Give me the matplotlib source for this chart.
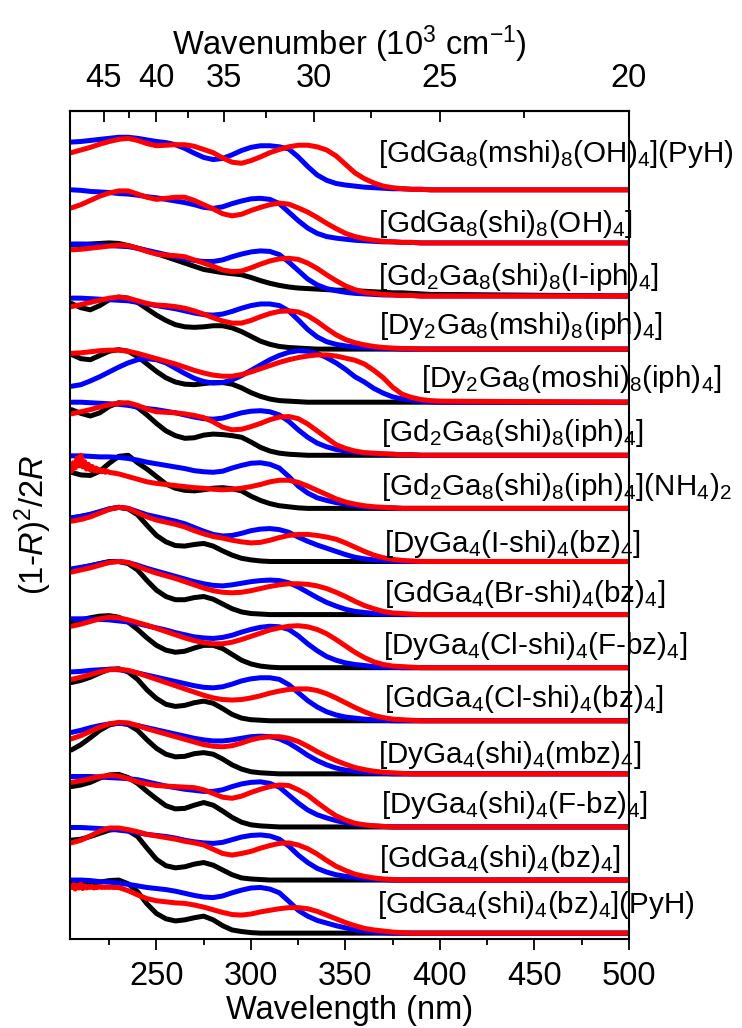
import numpy as np
import matplotlib
matplotlib.use("Agg")
import matplotlib.pyplot as plt

plt.rcParams['font.family'] = ['Liberation Sans', 'DejaVu Sans']
plt.rcParams['mathtext.fontset'] = 'custom'
plt.rcParams['mathtext.rm'] = 'Liberation Sans'
plt.rcParams['mathtext.it'] = 'Liberation Sans:italic'
plt.rcParams['mathtext.bf'] = 'Liberation Sans:bold'

# wavelength grid (nm): 205..400 every 5 nm, then the flat end at 500
wl = list(range(205, 401, 5)) + [500]

# compounds, top to bottom
names = [
    r'[GdGa$_8$(mshi)$_8$(OH)$_4$](PyH)',
    r'[GdGa$_8$(shi)$_8$(OH)$_4$]',
    r'[Gd$_2$Ga$_8$(shi)$_8$(I-iph)$_4$]',
    r'[Dy$_2$Ga$_8$(mshi)$_8$(iph)$_4$]',
    r'[Dy$_2$Ga$_8$(moshi)$_8$(iph)$_4$]',
    r'[Gd$_2$Ga$_8$(shi)$_8$(iph)$_4$]',
    r'[Gd$_2$Ga$_8$(shi)$_8$(iph)$_4$](NH$_4$)$_2$',
    r'[DyGa$_4$(I-shi)$_4$(bz)$_4$]',
    r'[GdGa$_4$(Br-shi)$_4$(bz)$_4$]',
    r'[DyGa$_4$(Cl-shi)$_4$(F-bz)$_4$]',
    r'[GdGa$_4$(Cl-shi)$_4$(bz)$_4$]',
    r'[DyGa$_4$(shi)$_4$(mbz)$_4$]',
    r'[DyGa$_4$(shi)$_4$(F-bz)$_4$]',
    r'[GdGa$_4$(shi)$_4$(bz)$_4$]',
    r'[GdGa$_4$(shi)$_4$(bz)$_4$](PyH)',
]

# Kubelka-Munk spectra, rows of ten points: 205-250, 255-300, 305-350, 355-400, then 500 nm
t01_blue = [0.90, 0.91, 0.93, 0.95, 0.97, 0.99, 0.99, 0.97, 0.94, 0.91,
            0.89, 0.85, 0.78, 0.69, 0.61, 0.57, 0.59, 0.66, 0.74, 0.80,
            0.83, 0.83, 0.81, 0.77, 0.62, 0.44, 0.28, 0.18, 0.12, 0.09,
            0.07, 0.05, 0.04, 0.03, 0.02, 0.02, 0.01, 0.01, 0, 0, 0]
t01_red = [0.70, 0.75, 0.80, 0.86, 0.91, 0.95, 0.97, 0.93, 0.87, 0.83,
           0.84, 0.85, 0.85, 0.82, 0.76, 0.70, 0.60, 0.52, 0.50, 0.55,
           0.62, 0.70, 0.76, 0.81, 0.84, 0.84, 0.81, 0.75, 0.64, 0.48,
           0.32, 0.21, 0.13, 0.07, 0.04, 0.02, 0.01, 0.01, 0, 0, 0]

t02_blue = [1.00, 0.99, 0.97, 0.96, 0.95, 0.93, 0.92, 0.90, 0.87, 0.85,
            0.82, 0.79, 0.76, 0.72, 0.67, 0.65, 0.68, 0.74, 0.79, 0.83,
            0.84, 0.82, 0.74, 0.58, 0.42, 0.28, 0.18, 0.12, 0.09, 0.07,
            0.05, 0.04, 0.03, 0.02, 0.02, 0.01, 0.01, 0, 0, 0, 0]
t02_red = [0.66, 0.72, 0.80, 0.88, 0.94, 0.98, 0.98, 0.92, 0.86, 0.82,
           0.84, 0.86, 0.86, 0.80, 0.72, 0.64, 0.55, 0.51, 0.54, 0.61,
           0.67, 0.72, 0.75, 0.73, 0.66, 0.58, 0.48, 0.37, 0.27, 0.18,
           0.12, 0.08, 0.05, 0.03, 0.02, 0.01, 0.01, 0, 0, 0, 0]

t03_black = [0.96, 0.97, 0.98, 0.99, 1.00, 0.99, 0.95, 0.90, 0.85, 0.80,
             0.74, 0.68, 0.62, 0.56, 0.50, 0.47, 0.44, 0.42, 0.40, 0.35,
             0.29, 0.24, 0.20, 0.17, 0.15, 0.14, 0.13, 0.12, 0.11, 0.11,
             0.10, 0.09, 0.08, 0.07, 0.06, 0.06, 0.05, 0.04, 0.03, 0.03, 0]
t03_blue = [0.98, 0.98, 0.97, 0.96, 0.95, 0.94, 0.93, 0.90, 0.86, 0.82,
            0.78, 0.74, 0.70, 0.67, 0.65, 0.65, 0.68, 0.74, 0.79, 0.83,
            0.85, 0.84, 0.78, 0.64, 0.48, 0.32, 0.21, 0.14, 0.10, 0.07,
            0.05, 0.04, 0.03, 0.02, 0.02, 0.01, 0.01, 0, 0, 0, 0]
t03_red = [0.87, 0.88, 0.90, 0.92, 0.94, 0.96, 0.95, 0.90, 0.84, 0.79,
           0.77, 0.76, 0.74, 0.68, 0.62, 0.56, 0.49, 0.46, 0.47, 0.53,
           0.60, 0.66, 0.70, 0.71, 0.69, 0.62, 0.52, 0.40, 0.29, 0.19,
           0.12, 0.07, 0.05, 0.03, 0.02, 0.01, 0.01, 0, 0, 0, 0]

t04_black = [0.86, 0.78, 0.74, 0.82, 0.93, 0.98, 0.96, 0.88, 0.76, 0.64,
             0.54, 0.46, 0.42, 0.41, 0.42, 0.44, 0.44, 0.40, 0.33, 0.24,
             0.15, 0.09, 0.05, 0.03, 0.02, 0.01, 0, 0, 0, 0,
             0, 0, 0, 0, 0, 0, 0, 0, 0, 0, 0]
t04_blue = [0.96, 0.96, 0.95, 0.94, 0.93, 0.92, 0.91, 0.88, 0.85, 0.82,
            0.79, 0.76, 0.72, 0.68, 0.65, 0.64, 0.66, 0.71, 0.77, 0.82,
            0.85, 0.85, 0.82, 0.72, 0.55, 0.37, 0.23, 0.14, 0.09, 0.06,
            0.04, 0.03, 0.02, 0.01, 0.01, 0, 0, 0, 0, 0, 0]
t04_red = [0.80, 0.84, 0.88, 0.92, 0.96, 0.98, 0.96, 0.91, 0.86, 0.83,
           0.82, 0.80, 0.77, 0.72, 0.66, 0.59, 0.53, 0.49, 0.49, 0.54,
           0.61, 0.67, 0.71, 0.72, 0.70, 0.63, 0.52, 0.39, 0.27, 0.18,
           0.12, 0.08, 0.05, 0.03, 0.02, 0.01, 0.01, 0, 0, 0, 0]

t05_black = [0.90, 0.82, 0.80, 0.88, 0.96, 0.99, 0.96, 0.86, 0.72, 0.58,
             0.46, 0.38, 0.34, 0.33, 0.35, 0.37, 0.37, 0.34, 0.27, 0.18,
             0.11, 0.06, 0.03, 0.02, 0.01, 0, 0, 0, 0, 0,
             0, 0, 0, 0, 0, 0, 0, 0, 0, 0, 0]
t05_blue = [0.30, 0.33, 0.40, 0.48, 0.57, 0.66, 0.74, 0.80, 0.82, 0.80,
            0.74, 0.64, 0.54, 0.45, 0.39, 0.36, 0.37, 0.42, 0.50, 0.60,
            0.70, 0.80, 0.88, 0.94, 0.97, 0.96, 0.92, 0.84, 0.74, 0.62,
            0.48, 0.38, 0.26, 0.17, 0.10, 0.06, 0.04, 0.02, 0.01, 0, 0]
t05_red = [0.92, 0.93, 0.95, 0.97, 0.98, 0.98, 0.96, 0.92, 0.87, 0.82,
           0.77, 0.72, 0.66, 0.60, 0.55, 0.51, 0.49, 0.49, 0.52, 0.57,
           0.63, 0.69, 0.75, 0.80, 0.84, 0.87, 0.89, 0.89, 0.87, 0.83,
           0.79, 0.72, 0.60, 0.46, 0.28, 0.15, 0.09, 0.05, 0.03, 0.02, 0]

t06_black = [0.86, 0.79, 0.74, 0.80, 0.92, 0.99, 0.97, 0.90, 0.76, 0.60,
             0.46, 0.37, 0.32, 0.33, 0.38, 0.40, 0.39, 0.37, 0.34, 0.25,
             0.15, 0.08, 0.04, 0.02, 0.01, 0, 0, 0, 0, 0,
             0, 0, 0, 0, 0, 0, 0, 0, 0, 0, 0]
t06_blue = [1.00, 1.00, 0.99, 0.98, 0.97, 0.96, 0.94, 0.91, 0.88, 0.86,
            0.83, 0.80, 0.76, 0.72, 0.69, 0.68, 0.70, 0.75, 0.80, 0.83,
            0.84, 0.82, 0.76, 0.64, 0.48, 0.34, 0.23, 0.16, 0.11, 0.08,
            0.06, 0.04, 0.03, 0.02, 0.02, 0.01, 0.01, 0, 0, 0, 0]
t06_red = [0.78, 0.82, 0.86, 0.91, 0.95, 0.98, 0.99, 0.94, 0.87, 0.82,
           0.81, 0.80, 0.78, 0.75, 0.71, 0.63, 0.53, 0.48, 0.49, 0.54,
           0.60, 0.67, 0.72, 0.73, 0.69, 0.59, 0.46, 0.33, 0.20, 0.13,
           0.08, 0.05, 0.04, 0.03, 0.02, 0.01, 0.01, 0, 0, 0, 0]

t07_black = [0.68, 0.63, 0.62, 0.70, 0.85, 0.98, 1.00, 0.86, 0.74, 0.60,
             0.46, 0.38, 0.34, 0.33, 0.35, 0.38, 0.39, 0.37, 0.33, 0.23,
             0.15, 0.09, 0.05, 0.03, 0.01, 0, 0, 0, 0, 0,
             0, 0, 0, 0, 0, 0, 0, 0, 0, 0, 0]
t07_blue = [0.99, 0.99, 0.98, 0.97, 0.97, 0.96, 0.94, 0.91, 0.87, 0.84,
            0.81, 0.78, 0.75, 0.71, 0.69, 0.68, 0.70, 0.76, 0.81, 0.85,
            0.86, 0.83, 0.76, 0.60, 0.42, 0.29, 0.20, 0.15, 0.11, 0.08,
            0.05, 0.03, 0.02, 0.01, 0.01, 0, 0, 0, 0, 0, 0]
# noisy start: 205-224 nm every 1 nm, then 225-400 every 5 nm, then 500
t07_red_wl = list(range(205, 225)) + list(range(225, 401, 5)) + [500]
t07_red = [0.70, 0.86, 0.76, 0.95, 0.80, 1.00, 0.78, 0.88, 0.74, 0.83,
           0.72, 0.79, 0.71, 0.76, 0.70, 0.73, 0.69, 0.72, 0.68, 0.70,
           0.68, 0.65, 0.60, 0.55, 0.50, 0.47, 0.45, 0.43, 0.41, 0.39,
           0.38, 0.36, 0.35, 0.36, 0.38, 0.41, 0.45, 0.50, 0.53, 0.53,
           0.49, 0.42, 0.34, 0.26, 0.18, 0.12, 0.08, 0.05, 0.03, 0.02,
           0.01, 0, 0, 0, 0, 0, 0]

t08_black = [0.82, 0.85, 0.88, 0.93, 0.99, 1.02, 0.99, 0.88, 0.68, 0.49,
             0.37, 0.30, 0.29, 0.32, 0.34, 0.29, 0.20, 0.12, 0.06, 0.03,
             0.01, 0, 0, 0, 0, 0, 0, 0, 0, 0,
             0, 0, 0, 0, 0, 0, 0, 0, 0, 0, 0]
t08_blue = [0.82, 0.85, 0.89, 0.94, 0.99, 1.02, 1.00, 0.94, 0.88, 0.84,
            0.80, 0.76, 0.71, 0.64, 0.57, 0.51, 0.48, 0.49, 0.53, 0.58,
            0.61, 0.62, 0.60, 0.55, 0.46, 0.38, 0.31, 0.25, 0.19, 0.13,
            0.08, 0.05, 0.03, 0.02, 0.01, 0, 0, 0, 0, 0, 0]
t08_red = [0.76, 0.79, 0.84, 0.91, 0.98, 1.02, 1.00, 0.92, 0.84, 0.78,
           0.74, 0.70, 0.65, 0.58, 0.52, 0.47, 0.44, 0.40, 0.37, 0.35,
           0.36, 0.40, 0.45, 0.49, 0.51, 0.51, 0.49, 0.46, 0.42, 0.35,
           0.27, 0.19, 0.12, 0.07, 0.04, 0.02, 0.01, 0, 0, 0, 0]

t09_black = [0.84, 0.88, 0.92, 0.96, 1.00, 1.00, 0.96, 0.84, 0.64, 0.46,
             0.34, 0.28, 0.28, 0.32, 0.34, 0.29, 0.20, 0.11, 0.05, 0.02,
             0.01, 0, 0, 0, 0, 0, 0, 0, 0, 0,
             0, 0, 0, 0, 0, 0, 0, 0, 0, 0, 0]
t09_blue = [0.86, 0.89, 0.92, 0.96, 0.99, 1.00, 0.98, 0.93, 0.87, 0.82,
            0.77, 0.72, 0.67, 0.62, 0.58, 0.55, 0.54, 0.56, 0.59, 0.62,
            0.64, 0.65, 0.64, 0.60, 0.52, 0.42, 0.32, 0.23, 0.16, 0.10,
            0.06, 0.04, 0.02, 0.01, 0.01, 0, 0, 0, 0, 0, 0]
t09_red = [0.80, 0.84, 0.88, 0.93, 0.98, 1.00, 0.98, 0.91, 0.84, 0.78,
           0.73, 0.68, 0.62, 0.56, 0.50, 0.45, 0.42, 0.41, 0.42, 0.45,
           0.49, 0.53, 0.56, 0.58, 0.58, 0.57, 0.54, 0.49, 0.42, 0.34,
           0.25, 0.17, 0.11, 0.06, 0.03, 0.02, 0.01, 0, 0, 0, 0]

t10_black = [0.86, 0.90, 0.94, 0.97, 0.98, 0.95, 0.86, 0.72, 0.56, 0.42,
             0.33, 0.29, 0.31, 0.37, 0.42, 0.42, 0.36, 0.25, 0.14, 0.07,
             0.03, 0.01, 0, 0, 0, 0, 0, 0, 0, 0,
             0, 0, 0, 0, 0, 0, 0, 0, 0, 0, 0]
t10_blue = [0.92, 0.92, 0.92, 0.91, 0.90, 0.88, 0.86, 0.83, 0.79, 0.75,
            0.71, 0.66, 0.62, 0.58, 0.56, 0.55, 0.57, 0.61, 0.67, 0.72,
            0.76, 0.78, 0.77, 0.72, 0.60, 0.45, 0.32, 0.21, 0.14, 0.09,
            0.06, 0.04, 0.02, 0.01, 0.01, 0, 0, 0, 0, 0, 0]
t10_red = [0.78, 0.82, 0.87, 0.92, 0.95, 0.94, 0.90, 0.85, 0.80, 0.74,
           0.68, 0.62, 0.56, 0.51, 0.47, 0.45, 0.45, 0.48, 0.53, 0.59,
           0.65, 0.71, 0.75, 0.78, 0.79, 0.77, 0.72, 0.64, 0.53, 0.41,
           0.29, 0.19, 0.11, 0.06, 0.03, 0.02, 0.01, 0, 0, 0, 0]

t11_black = [0.72, 0.76, 0.82, 0.90, 0.97, 0.98, 0.92, 0.78, 0.58, 0.42,
             0.31, 0.27, 0.29, 0.34, 0.37, 0.33, 0.23, 0.12, 0.05, 0.02,
             0.01, 0, 0, 0, 0, 0, 0, 0, 0, 0,
             0, 0, 0, 0, 0, 0, 0, 0, 0, 0, 0]
t11_blue = [0.92, 0.93, 0.95, 0.96, 0.97, 0.96, 0.94, 0.90, 0.86, 0.82,
            0.78, 0.74, 0.70, 0.66, 0.63, 0.62, 0.64, 0.69, 0.75, 0.79,
            0.81, 0.81, 0.78, 0.68, 0.53, 0.38, 0.26, 0.17, 0.11, 0.07,
            0.05, 0.03, 0.02, 0.01, 0, 0, 0, 0, 0, 0, 0]
t11_red = [0.78, 0.82, 0.87, 0.92, 0.96, 0.97, 0.95, 0.90, 0.84, 0.78,
           0.72, 0.66, 0.60, 0.54, 0.48, 0.43, 0.40, 0.39, 0.40, 0.43,
           0.47, 0.52, 0.56, 0.59, 0.60, 0.60, 0.57, 0.51, 0.43, 0.34,
           0.25, 0.17, 0.10, 0.06, 0.03, 0.02, 0.01, 0, 0, 0, 0]

t12_black = [0.45, 0.55, 0.68, 0.82, 0.92, 0.96, 0.93, 0.82, 0.64, 0.48,
             0.37, 0.32, 0.33, 0.38, 0.40, 0.37, 0.28, 0.17, 0.09, 0.04,
             0.02, 0.01, 0, 0, 0, 0, 0, 0, 0, 0,
             0, 0, 0, 0, 0, 0, 0, 0, 0, 0, 0]
t12_blue = [0.78, 0.82, 0.87, 0.91, 0.94, 0.95, 0.94, 0.91, 0.87, 0.83,
            0.79, 0.75, 0.71, 0.67, 0.64, 0.62, 0.62, 0.64, 0.67, 0.70,
            0.71, 0.70, 0.66, 0.58, 0.47, 0.35, 0.25, 0.17, 0.11, 0.07,
            0.05, 0.03, 0.02, 0.01, 0, 0, 0, 0, 0, 0, 0]
t12_red = [0.66, 0.72, 0.80, 0.88, 0.94, 0.97, 0.96, 0.91, 0.85, 0.80,
           0.75, 0.70, 0.65, 0.60, 0.55, 0.52, 0.51, 0.53, 0.58, 0.64,
           0.68, 0.70, 0.70, 0.67, 0.61, 0.52, 0.42, 0.33, 0.25, 0.18,
           0.12, 0.08, 0.05, 0.03, 0.02, 0.01, 0, 0, 0, 0, 0]

t13_black = [0.76, 0.79, 0.84, 0.92, 0.98, 0.99, 0.93, 0.82, 0.67, 0.53,
             0.40, 0.34, 0.35, 0.41, 0.46, 0.41, 0.30, 0.18, 0.09, 0.04,
             0.02, 0.01, 0, 0, 0, 0, 0, 0, 0, 0,
             0, 0, 0, 0, 0, 0, 0, 0, 0, 0, 0]
t13_blue = [0.95, 0.95, 0.95, 0.94, 0.93, 0.92, 0.91, 0.89, 0.85, 0.81,
            0.77, 0.74, 0.71, 0.69, 0.67, 0.67, 0.70, 0.76, 0.81, 0.84,
            0.85, 0.82, 0.75, 0.60, 0.45, 0.32, 0.23, 0.17, 0.12, 0.08,
            0.05, 0.03, 0.02, 0.01, 0, 0, 0, 0, 0, 0, 0]
t13_red = [0.84, 0.87, 0.91, 0.95, 0.97, 0.96, 0.91, 0.85, 0.81, 0.78,
           0.77, 0.76, 0.75, 0.74, 0.70, 0.63, 0.56, 0.54, 0.58, 0.65,
           0.71, 0.76, 0.79, 0.78, 0.70, 0.60, 0.46, 0.33, 0.21, 0.13,
           0.07, 0.04, 0.02, 0.01, 0, 0, 0, 0, 0, 0, 0]

t14_black = [0.75, 0.77, 0.82, 0.88, 0.94, 0.96, 0.93, 0.82, 0.60, 0.39,
             0.27, 0.23, 0.25, 0.30, 0.33, 0.28, 0.19, 0.10, 0.04, 0.02,
             0.01, 0, 0, 0, 0, 0, 0, 0, 0, 0,
             0, 0, 0, 0, 0, 0, 0, 0, 0, 0, 0]
t14_blue = [0.99, 0.99, 0.98, 0.97, 0.96, 0.94, 0.92, 0.89, 0.86, 0.84,
            0.82, 0.79, 0.75, 0.72, 0.70, 0.69, 0.71, 0.76, 0.81, 0.84,
            0.85, 0.83, 0.77, 0.64, 0.47, 0.33, 0.22, 0.15, 0.10, 0.07,
            0.05, 0.03, 0.02, 0.01, 0, 0, 0, 0, 0, 0, 0]
t14_red = [0.70, 0.75, 0.83, 0.92, 0.98, 0.98, 0.95, 0.91, 0.86, 0.83,
           0.80, 0.77, 0.73, 0.70, 0.66, 0.58, 0.50, 0.47, 0.50, 0.54,
           0.60, 0.65, 0.69, 0.70, 0.66, 0.59, 0.49, 0.37, 0.26, 0.18,
           0.11, 0.07, 0.04, 0.02, 0.01, 0, 0, 0, 0, 0, 0]

t15_black = [0.94, 0.94, 0.94, 0.96, 0.99, 1.00, 0.93, 0.78, 0.55, 0.37,
             0.27, 0.23, 0.25, 0.29, 0.32, 0.25, 0.14, 0.06, 0.03, 0.01,
             0, 0, 0, 0, 0, 0, 0, 0, 0, 0,
             0, 0, 0, 0, 0, 0, 0, 0, 0, 0, 0]
t15_blue = [1.00, 1.00, 0.99, 0.97, 0.96, 0.94, 0.92, 0.89, 0.86, 0.84,
            0.82, 0.79, 0.75, 0.71, 0.68, 0.67, 0.70, 0.76, 0.81, 0.85,
            0.86, 0.83, 0.76, 0.60, 0.43, 0.32, 0.24, 0.19, 0.14, 0.10,
            0.06, 0.04, 0.02, 0.01, 0, 0, 0, 0, 0, 0, 0]
# noisy start: 205-229 nm every 1 nm, then 230-400 every 5 nm, then 500
t15_red_wl = list(range(205, 230)) + list(range(230, 401, 5)) + [500]
t15_red = [0.86, 0.91, 0.83, 0.90, 0.85, 0.92, 0.84, 0.89, 0.85, 0.88,
           0.86, 0.88, 0.85, 0.87, 0.86, 0.88, 0.86, 0.87, 0.86, 0.87,
           0.86, 0.87, 0.86, 0.86, 0.86,
           0.86, 0.80, 0.72, 0.65, 0.61, 0.59, 0.57, 0.56, 0.53, 0.49,
           0.44, 0.39, 0.35, 0.34, 0.36, 0.40, 0.43, 0.46, 0.48, 0.48,
           0.46, 0.41, 0.34, 0.27, 0.20, 0.14, 0.09, 0.06, 0.04, 0.02,
           0.01, 0, 0, 0, 0, 0]

# (black, blue, red) for each compound, top to bottom
spectra = [
    (None, t01_blue, t01_red),
    (None, t02_blue, t02_red),
    (t03_black, t03_blue, t03_red),
    (t04_black, t04_blue, t04_red),
    (t05_black, t05_blue, t05_red),
    (t06_black, t06_blue, t06_red),
    (t07_black, t07_blue, (t07_red_wl, t07_red)),
    (t08_black, t08_blue, t08_red),
    (t09_black, t09_blue, t09_red),
    (t10_black, t10_blue, t10_red),
    (t11_black, t11_blue, t11_red),
    (t12_black, t12_blue, t12_red),
    (t13_black, t13_blue, t13_red),
    (t14_black, t14_blue, t14_red),
    (t15_black, t15_blue, (t15_red_wl, t15_red)),
]

# label anchor (nm) and height above each baseline
label_x = [367.2, 367.2, 367.2, 367.7, 390.0, 368.8, 368.8, 370.4, 370.4, 369.6, 370.4, 367.2, 368.8, 367.7, 366.6]
label_dy = [0.53, 0.21, 0.21, 0.28, 0.28, 0.26, 0.26, 0.17, 0.23, 0.25, 0.25, 0.21, 0.26, 0.25, 0.38]

fig = plt.figure(figsize=(7.42, 10.28), dpi=100)
ax = fig.add_axes([0.0937, 0.0866, 0.754, 0.8057])

n = len(names)
for i, (blk, blu, red) in enumerate(spectra):
    off = n - 1 - i
    for s, c in ((blk, 'black'), (blu, 'blue'), (red, 'red')):
        if s is None:
            continue
        if isinstance(s, tuple):
            x, y = s
        else:
            x, y = wl, s
        ax.plot(x, np.asarray(y) + off, color=c, lw=3.6,
                solid_capstyle='round', solid_joinstyle='round')
    ax.text(label_x[i], off + label_dy[i], names[i], fontsize=21.3, ha='left', va='baseline')

ax.set_xlim(204, 500)
ax.set_ylim(-0.11, 15.49)
ax.set_yticks([])
ax.set_xticks([250, 300, 350, 400, 450, 500])
ax.set_xticks([225, 275, 325, 375, 425, 475], minor=True)
ax.tick_params(axis='x', which='major', direction='out', length=8, width=1.3, labelsize=23.5, pad=8)
ax.tick_params(axis='x', which='minor', direction='out', length=4.5, width=1.3)
for sp in ax.spines.values():
    sp.set_linewidth(1.5)
ax.set_xlabel('Wavelength (nm)', fontsize=23.5, labelpad=2)
ax.set_ylabel('(1-$R$)$^2$/2$R$', fontsize=23.5, labelpad=11)


def nm_to_kcm(x):
    x = np.array(x, dtype=float)
    out = np.full_like(x, np.inf)
    ok = ~np.isclose(x, 0)
    out[ok] = 1e4 / x[ok]
    return out


top = ax.secondary_xaxis('top', functions=(nm_to_kcm, nm_to_kcm))
top.set_xticks([45, 40, 35, 30, 25, 20])
top.set_xticks([42.5, 37.5, 32.5, 27.5, 22.5], minor=True)
top.tick_params(axis='x', which='major', direction='in', length=8, width=1.3, labelsize=23.5, pad=12)
top.tick_params(axis='x', which='minor', direction='in', length=5, width=1.3)
top.spines['top'].set_linewidth(1.5)
top.set_xlabel('Wavenumber (10$^3$ cm$^{-1}$)', fontsize=23.5, labelpad=6)

fig.savefig('out.png', dpi=100)
